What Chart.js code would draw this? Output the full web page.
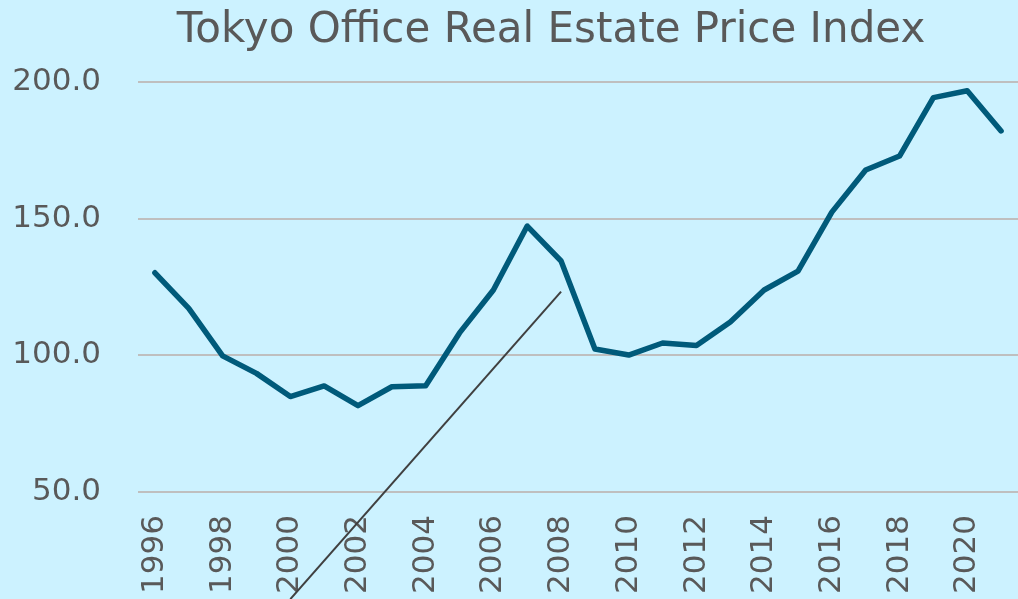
<!DOCTYPE html>
<html>
<head>
<meta charset="utf-8">
<script src="https://cdn.jsdelivr.net/npm/chart.js@4"></script>
<style>
  html, body { margin: 0; padding: 0; background: #CCF2FF; }
  #wrap { width: 1018px; height: 599px; }
</style>
</head>
<body>
<div id="wrap"><canvas id="chartCanvas"></canvas></div>
<script>
// data
const years = ["1996","1997","1998","1999","2000","2001","2002","2003","2004","2005",
  "2006","2007","2008","2009","2010","2011","2012","2013","2014","2015",
  "2016","2017","2018","2019","2020","2021"];
const priceIndex = [130.2, 117.2, 99.8, 93.4, 84.9, 88.8, 81.6, 88.5, 88.9, 108.2,
  123.9, 147.3, 134.5, 102.3, 100.1, 104.5, 103.6, 112.2, 123.9, 130.8,
  152.4, 167.8, 172.9, 194.3, 196.8, 182.1];
const yTicks = [50, 100, 150, 200];
const diagYears = ["2000", "2008"];
const diagValues = [10.8, 123.3];
const titleText = "Tokyo Office Real Estate Price Index";

const textColor = "#595959";
const fontFamily = "'DejaVu Sans', Verdana, sans-serif";

// background + title drawn by a small plugin
const bgPlugin = {
  id: "bg",
  beforeDraw(chart) {
    const ctx = chart.ctx;
    ctx.save();
    ctx.fillStyle = "#CCF2FF";
    ctx.fillRect(0, 0, chart.width, chart.height);
    ctx.restore();
  },
  afterDraw(chart) {
    const ctx = chart.ctx;
    ctx.save();
    ctx.fillStyle = textColor;
    ctx.font = "42px " + fontFamily;
    ctx.textAlign = "center";
    ctx.textBaseline = "alphabetic";
    ctx.fillText(titleText, 551, 42);
    ctx.restore();
  }
};

const canvas = document.getElementById("chartCanvas");

new Chart(canvas, {
  type: "line",
  data: {
    labels: years,
    datasets: [
      {
        data: priceIndex,
        borderColor: "#005A7A",
        borderWidth: 5.5,
        borderCapStyle: "round",
        borderJoinStyle: "round",
        pointRadius: 0,
        tension: 0,
        fill: false
      },
      {
        data: diagYears.map((y, i) => ({ x: y, y: diagValues[i] })),
        borderColor: "#404040",
        borderWidth: 2,
        pointRadius: 0,
        clip: false,
        fill: false
      }
    ]
  },
  options: {
    responsive: true,
    maintainAspectRatio: false,
    animation: false,
    layout: { padding: { top: 82, left: 12, right: 0, bottom: 5 } },
    plugins: {
      legend: { display: false },
      title: { display: false },
      tooltip: { enabled: false }
    },
    scales: {
      x: {
        offset: true,
        grid: { display: false, drawTicks: false },
        border: { display: false },
        ticks: {
          autoSkip: false,
          minRotation: 90,
          maxRotation: 90,
          padding: 23,
          color: textColor,
          font: { family: fontFamily, size: 31 },
          callback: (v, i) => (i % 2 === 0 ? years[i] : "")
        },
        afterFit: axis => {
          axis.height = 102;
          axis.paddingLeft = 0;
          axis.paddingRight = 0;
        }
      },
      y: {
        min: 50,
        max: 200,
        afterBuildTicks: axis => { axis.ticks = yTicks.map(v => ({ value: v })); },
        grid: { color: "#BFBFBF", lineWidth: 2, drawTicks: false },
        border: { display: false },
        ticks: {
          padding: 37,
          color: textColor,
          font: { family: fontFamily, size: 31 },
          callback: v => Number(v).toFixed(1)
        },
        afterFit: axis => {
          axis.width = 126;
        }
      }
    }
  },
  plugins: [bgPlugin]
});
</script>
</body>
</html>
